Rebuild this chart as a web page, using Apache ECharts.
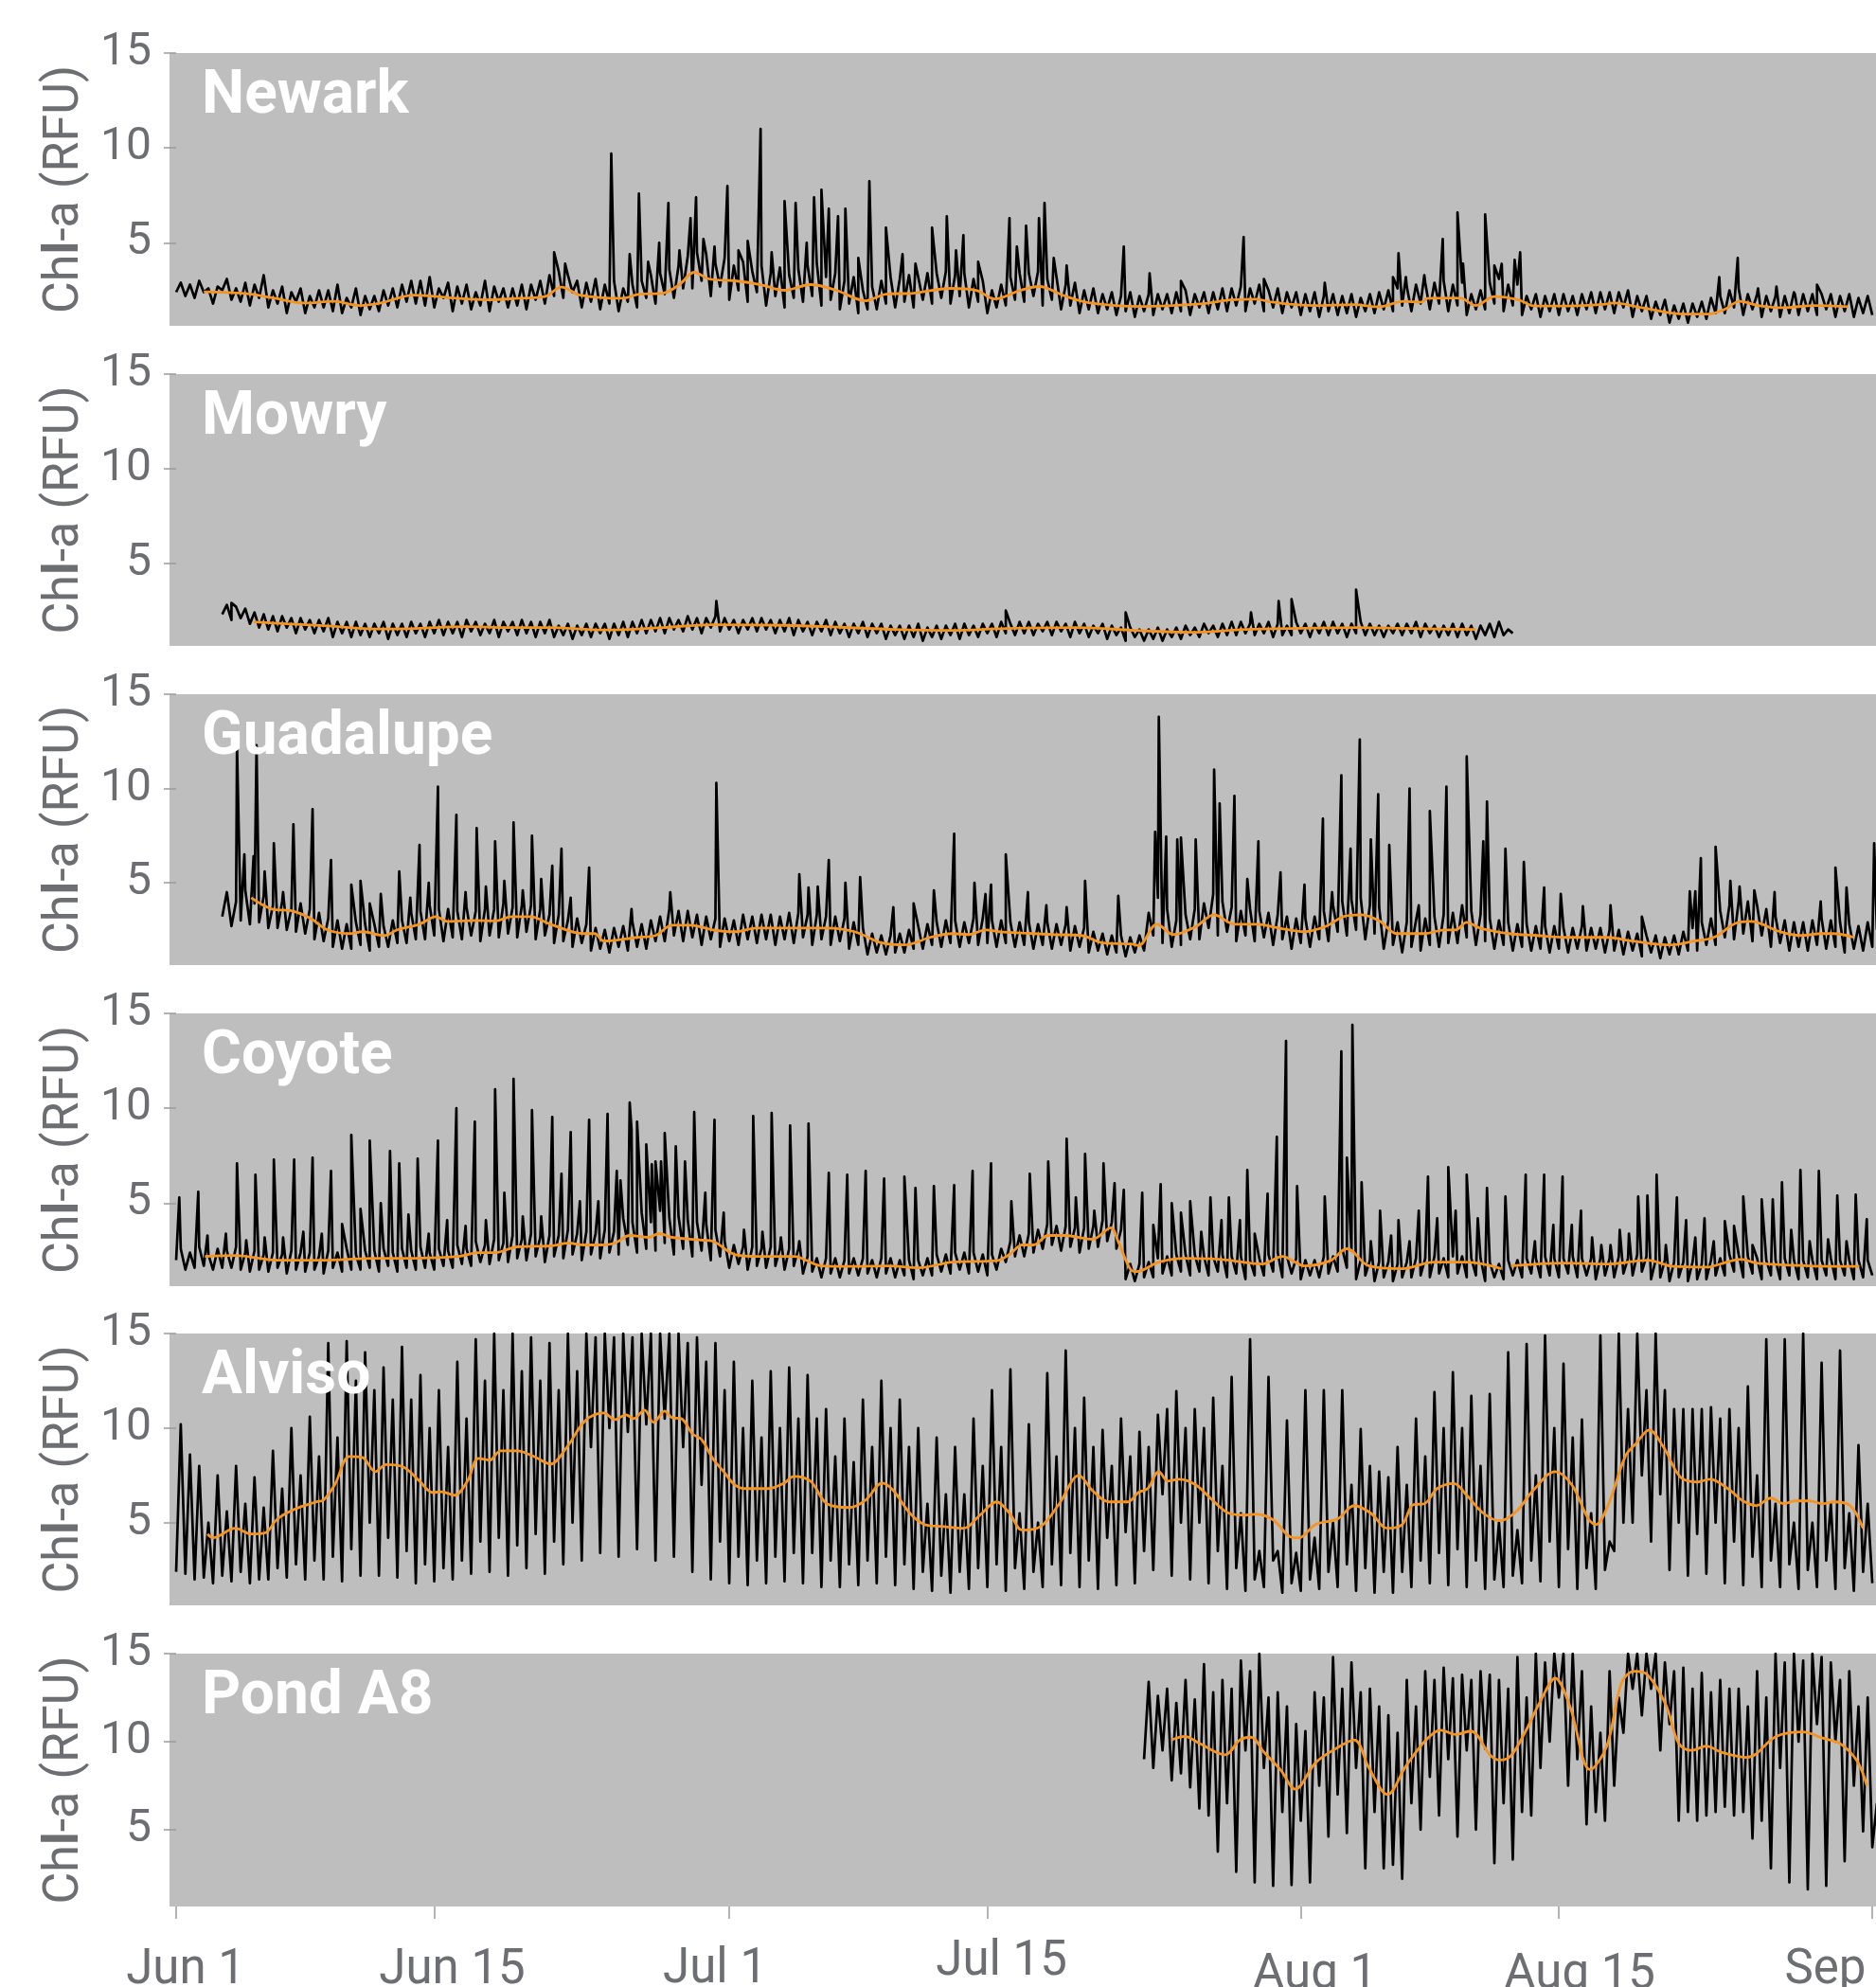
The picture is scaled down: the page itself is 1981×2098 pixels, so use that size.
<!DOCTYPE html>
<html><head><meta charset="utf-8">
<script src="https://cdn.jsdelivr.net/npm/echarts@6/dist/echarts.min.js"></script>
<style>html,body{margin:0;padding:0;background:#fff}#c{width:1981px;height:2098px}</style>
</head><body><div id="c"></div>
<script>
// ---------------- DATA ----------------
const sites = ['Newark', 'Mowry', 'Guadalupe', 'Coyote', 'Alviso', 'Pond A8'];
const dayTicks = [0, 14, 30, 44, 61, 75, 92];          // days since Jun 1
const tickLabels = ['Jun 1', 'Jun 15', 'Jul 1', 'Jul 15', 'Aug 1', 'Aug 15', 'Sep 1'];
const yTicks = [5, 10, 15];

// 6-hourly readings (start day, then one value every 0.25 day)
const newarkStart = 0;
const newarkBase = [
2.4,2.9,2.2,2.8, 2.1,3.0,2.4,2.6, 1.8,2.7,2.5,3.1, 2.0,2.6,1.9,2.9, 1.7,2.8,2.1,3.3,
1.6,2.5,1.8,2.7, 1.3,2.4,1.9,2.6, 1.3,2.2,1.6,2.5, 1.6,2.5,1.4,2.8, 1.3,2.1,1.6,2.6,
1.2,2.2,1.5,2.2, 1.4,2.5,1.7,2.6, 1.6,2.8,1.9,3.0, 1.8,3.0,1.7,3.2, 1.6,2.6,2.1,2.9,
1.4,2.7,1.8,2.8, 1.5,2.4,1.7,3.0, 1.4,2.7,1.9,2.6, 1.6,2.6,1.7,2.8, 1.5,2.8,2.0,3.0,
1.8,3.3,2.2,3.5, 2.1,3.3,2.4,3.0, 1.6,2.9,1.9,3.1, 1.5,2.8,1.8,3.0, 1.4,2.6,1.9,2.8,
1.6,3.0,2.1,3.3, 1.8,3.4,2.3,3.6, 2.1,3.8,2.6,4.3, 2.6,4.5,3.0,4.4, 2.2,3.9,2.7,4.2,
2.0,3.8,2.5,4.0, 1.9,3.5,2.4,3.8, 1.7,3.4,2.2,3.7, 1.6,3.3,2.1,3.6, 1.9,3.8,2.2,3.9,
1.7,3.2,2.0,3.4, 1.5,3.0,1.8,3.2, 1.3,2.5,1.5,2.7, 1.5,3.0,1.8,3.2, 1.6,3.1,1.9,3.3,
1.6,3.2,2.0,3.4, 1.8,3.4,2.1,3.5, 1.8,3.3,2.2,3.4, 1.6,3.1,1.9,3.0, 1.3,2.5,1.6,2.8,
1.7,3.2,2.0,3.4, 1.9,3.4,2.2,3.5, 1.7,3.1,2.0,3.2, 1.5,2.8,1.7,2.9, 1.3,2.5,1.5,2.6,
1.3,2.3,1.5,2.4, 1.2,2.2,1.4,2.4, 1.1,2.2,1.4,2.3, 1.2,2.3,1.5,2.3, 1.3,2.4,1.4,2.5,
1.2,2.3,1.6,2.4, 1.3,2.4,1.5,2.6, 1.4,2.6,1.7,2.7, 1.4,2.6,1.8,2.8, 1.4,2.5,1.6,2.6,
1.3,2.4,1.6,2.4, 1.2,2.3,1.4,2.4, 1.1,2.2,1.4,2.3, 1.2,2.2,1.3,2.3, 1.1,2.1,1.4,2.3,
1.3,2.4,1.5,2.5, 1.4,2.6,1.7,2.7, 1.4,2.8,1.8,2.9, 1.5,2.9,1.8,3.0, 1.4,2.8,1.7,2.9,
1.2,2.3,1.5,2.5, 1.5,2.9,1.8,3.1, 1.4,2.8,1.7,2.8, 1.2,2.2,1.5,2.3, 1.1,2.2,1.4,2.3,
1.2,2.3,1.4,2.2, 1.2,2.3,1.5,2.4, 1.3,2.4,1.5,2.4, 1.3,2.4,1.6,2.5, 1.1,2.2,1.4,2.2,
1.0,1.9,1.2,2.0, 0.8,1.7,1.0,1.8, 0.8,1.8,1.1,1.9, 1.0,2.1,1.3,2.2, 1.3,2.5,1.6,2.6,
1.2,2.3,1.5,2.3, 1.1,2.2,1.4,2.2, 1.1,2.2,1.3,2.4, 1.2,2.3,1.4,2.3, 1.2,2.3,1.5,2.3,
1.1,2.2,1.4,2.3, 1.1,2.1,1.3,2.2, 1.2];
const newarkSpikes = [[20.5,4.5],[21.1,3.9],[23.6,9.7],[24.6,4.4],[25.1,7.6],[25.6,4.0],[26.2,5.0],[26.7,7.1],[27.3,4.6],[27.9,6.3],[28.2,7.4],[28.6,5.2],[29.2,4.8],[29.9,8.0],[30.5,4.6],[31.0,5.1],[31.7,11.0],[32.3,4.5],[33.0,7.2],[33.6,7.1],[34.2,5.0],[34.6,7.4],[35.0,7.8],[35.4,6.8],[35.9,6.4],[36.3,6.8],[37.0,4.2],[37.6,8.25],[38.5,5.8],[39.4,4.4],[40.1,3.9],[41.0,5.8],[41.8,6.4],[42.3,4.6],[42.7,5.4],[43.5,4.0],[45.2,6.3],[45.6,4.8],[46.1,5.9],[46.8,6.3],[47.1,7.1],[47.6,4.2],[48.3,3.8],[51.4,4.8],[52.8,3.4],[54.5,3.0],[57.9,5.3],[59.0,3.1],[62.3,2.9],[66.0,3.2],[66.3,4.45],[66.7,3.2],[67.7,3.3],[68.7,5.2],[69.5,6.6],[69.8,3.9],[71.0,6.5],[71.5,3.8],[71.9,3.9],[72.6,4.1],[72.9,4.5],[83.7,3.2],[84.7,4.2],[85.8,2.6],[86.8,2.7],[87.8,2.3],[89.0,2.8]];
const newarkSmooth = [[1.5,2.42],[3.75,2.33],[5.35,2.08],[6.95,1.83],[8.56,1.92],[9.94,1.7],[11.1,1.83],[12.9,2.25],[15.2,2.08],[16.8,2.0],[18.6,2.08],[20.0,2.17],[20.9,2.67],[21.9,2.25],[24.2,2.08],[25.1,2.3],[26.4,2.35],[27.3,2.8],[28.1,3.45],[28.9,3.1],[30.3,3.0],[31.7,2.8],[33.0,2.5],[34.4,2.8],[35.8,2.5],[37.4,1.95],[38.5,2.3],[40.0,2.35],[42.0,2.6],[43.4,2.5],[44.4,2.05],[45.8,2.5],[46.8,2.7],[48.2,2.2],[49.5,1.85],[52.3,1.65],[55.7,1.8],[57.2,2.0],[58.6,2.03],[59.4,1.88],[61.7,1.7],[63.9,1.75],[65.2,1.63],[66.6,1.92],[67.5,1.87],[67.9,2.08],[69.3,2.1],[69.7,2.08],[70.5,1.7],[71.5,2.17],[72.8,2.0],[73.7,1.67],[75.1,1.67],[77.3,1.75],[78.0,1.83],[79.5,1.58],[81.8,1.25],[83.1,1.25],[84.0,1.5],[84.8,1.92],[85.8,1.7],[87.1,1.58],[88.9,1.7],[90.7,1.63]];

const mowryStart = 2.5;
const mowryBase = [
2.3,2.8,2.0,2.7, 2.1,2.6,1.8,2.4, 1.6,2.3,1.5,2.2, 1.4,2.2,1.6,2.1,
1.3,2.1,1.5,2.0, 1.3,2.0,1.4,2.1, 1.1,1.9,1.3,1.9, 1.1,1.9,1.2,1.8,
1.1,1.8,1.3,1.9, 1.0,1.8,1.2,1.8, 1.1,1.9,1.3,1.8, 1.1,1.9,1.3,2.0,
1.2,1.9,1.3,1.9, 1.1,2.0,1.4,1.9, 1.2,1.8,1.3,2.0, 1.1,1.9,1.4,1.9,
1.2,2.0,1.3,1.9, 1.1,1.9,1.3,2.0, 1.1,1.7,1.2,1.8, 1.0,1.7,1.2,1.8,
1.1,1.8,1.3,1.8, 1.0,1.8,1.2,1.9, 1.1,1.9,1.3,2.0, 1.3,2.0,1.4,2.1,
1.3,2.1,1.5,2.0, 1.4,2.2,1.5,2.1, 1.3,2.1,1.6,2.2, 1.4,2.1,1.5,2.0,
1.3,2.0,1.5,2.1, 1.4,2.1,1.5,2.0, 1.3,2.0,1.4,2.1, 1.2,2.0,1.4,1.9,
1.2,1.9,1.4,2.0, 1.2,1.9,1.3,1.8, 1.1,1.8,1.3,1.9, 1.1,1.8,1.3,1.8,
1.0,1.7,1.2,1.7, 1.0,1.7,1.1,1.8, 0.9,1.6,1.1,1.7, 1.0,1.7,1.2,1.8,
1.0,1.8,1.2,1.7, 1.1,1.8,1.3,1.8, 1.1,1.9,1.3,1.8, 1.2,1.9,1.3,1.9,
1.2,1.8,1.4,1.9, 1.2,1.9,1.4,1.8, 1.1,1.9,1.3,1.8, 1.1,1.7,1.3,1.8,
1.0,1.7,1.2,1.6, 0.9,1.6,1.1,1.5, 0.9,1.5,1.0,1.6, 0.9,1.5,1.1,1.6,
1.0,1.7,1.2,1.6, 1.1,1.8,1.3,1.7, 1.1,1.8,1.2,1.9, 1.2,1.9,1.3,1.8,
1.2,1.8,1.3,1.9, 1.1,1.8,1.2,1.7, 1.2,1.9,1.3,1.8, 1.1,1.8,1.3,1.9,
1.2,1.9,1.3,1.8, 1.1,1.8,1.3,1.9, 1.2,1.8,1.2,1.7, 1.1,1.7,1.3,1.8,
1.2,1.8,1.3,1.9, 1.1,1.8,1.3,1.7, 1.1,1.7,1.2,1.8, 1.1,1.8,1.2,1.7,
1.0,1.7,1.2,1.8, 1.1,1.9,1.2,1.5, 1.3];
const mowrySpikes = [[3.0,2.9],[29.3,3.0],[45.0,2.5],[51.5,2.4],[58.3,2.4],[59.8,3.0],[60.5,3.1],[64.0,3.6]];
const mowrySmooth = [[4.2,1.9],[6,1.8],[8,1.7],[11,1.52],[13,1.55],[15.7,1.65],[18,1.6],[20.2,1.6],[23.2,1.47],[26.4,1.6],[29,1.75],[33,1.72],[36,1.62],[39,1.5],[42,1.45],[45,1.55],[49,1.6],[52,1.45],[55,1.35],[58,1.5],[61,1.56],[64,1.6],[67,1.55],[70.5,1.5]];

const guadalupeStart = 2.5;
const guadalupeBase = [
3.2,4.5,2.7,4.0, 3.0,4.6,2.8,3.9, 2.9,4.3,2.6,3.8, 2.6,4.0,2.5,3.6, 2.4,3.9,2.3,3.6,
2.0,3.4,1.9,3.1, 1.6,3.0,1.5,2.8, 1.5,2.9,1.7,2.8, 1.4,2.8,1.6,2.7, 1.6,3.0,1.8,3.0,
1.8,3.4,2.0,3.5, 2.0,3.8,2.2,3.6, 1.9,3.6,2.1,3.5, 2.0,3.7,2.2,3.5, 1.9,3.6,2.2,3.6,
2.1,3.9,2.3,3.7, 2.1,3.8,2.4,3.8, 2.0,3.6,2.2,3.3, 1.8,3.3,1.9,3.0, 1.6,3.1,1.8,2.8,
1.4,2.6,1.5,2.5, 1.3,2.6,1.6,2.7, 1.4,2.9,1.6,2.8, 1.5,3.0,1.9,3.2, 1.9,3.6,2.2,3.5,
1.9,3.5,2.1,3.3, 1.7,3.2,2.0,3.1, 1.6,3.1,1.9,3.0, 1.7,3.3,2.0,3.2, 1.8,3.3,2.0,3.3,
1.7,3.2,2.0,3.4, 1.8,3.4,2.1,3.3, 1.7,3.3,2.0,3.2, 1.7,3.2,1.9,3.1, 1.5,2.9,1.7,2.6,
1.2,2.3,1.3,2.2, 1.2,2.2,1.3,2.3, 1.3,2.5,1.5,2.7, 1.5,2.8,1.7,2.9, 1.6,3.0,1.8,3.0,
1.6,2.9,1.8,3.1, 1.7,3.1,1.8,3.0, 1.6,3.0,1.8,2.9, 1.6,2.9,1.7,2.9, 1.5,2.8,1.7,2.9,
1.5,2.8,1.7,2.8, 1.4,2.7,1.6,2.6, 1.3,2.4,1.4,2.3, 1.2,2.2,1.3,2.2, 1.1,2.1,1.3,2.2,
1.4,3.4,2.2,4.2, 1.8,3.6,1.6,3.0, 1.7,3.3,2.0,3.6, 2.0,3.9,2.6,4.4, 2.2,4.0,2.4,3.7,
1.9,3.5,2.2,3.6, 1.9,3.5,2.1,3.4, 1.7,3.3,2.0,3.2, 1.5,3.1,1.8,3.1, 1.6,3.2,2.0,3.5,
1.9,3.8,2.4,4.0, 2.2,4.1,2.5,4.2, 2.0,3.8,2.3,3.7, 1.5,3.0,1.7,2.9, 1.3,2.9,1.6,3.0,
1.4,3.1,1.7,3.2, 1.6,3.3,1.8,3.4, 1.8,3.8,2.1,3.5, 1.7,3.3,1.9,3.1, 1.5,3.0,1.7,2.9,
1.4,2.8,1.6,2.8, 1.4,2.7,1.5,2.7, 1.3,2.7,1.5,2.6, 1.3,2.6,1.5,2.7, 1.4,2.6,1.5,2.6,
1.3,2.5,1.4,2.5, 1.2,2.4,1.4,2.3, 1.1,2.2,1.3,2.2, 1.0,2.1,1.2,2.2, 1.2,2.4,1.4,2.6,
1.4,2.9,1.7,3.1, 1.7,3.5,2.1,3.8, 2.0,4.0,2.3,4.0, 1.9,3.8,2.2,3.6, 1.6,3.2,1.8,3.0,
1.4,2.9,1.6,2.9, 1.4,3.0,1.7,3.1, 1.5,3.0,1.6,2.9, 1.3,2.8,1.5,2.7, 1.4,2.9,1.6,2.5];
const guadalupeSpikes = [[3.3,12.3],[3.7,6.5],[4.2,6.4],[4.36,12.3],[4.8,5.6],[5.3,7.1],[5.8,4.5],[6.36,8.1],[7.4,8.9],[8.4,6.2],[9.5,4.9],[10.0,5.1],[10.5,3.9],[11.1,4.4],[12.1,5.6],[12.7,4.2],[13.2,7.0],[13.7,5.0],[14.2,10.1],[15.2,8.6],[15.7,4.5],[16.3,7.9],[16.8,4.8],[17.3,7.2],[17.8,5.1],[18.3,8.2],[18.8,4.6],[19.3,7.5],[19.8,5.2],[20.4,5.9],[20.9,6.8],[21.4,4.2],[22.4,5.8],[24.7,3.6],[26.8,4.5],[29.3,10.3],[33.8,5.45],[34.3,4.75],[34.8,4.8],[35.4,6.2],[36.3,5.0],[37.1,5.3],[38.9,3.7],[40.0,3.9],[41.1,4.6],[42.2,7.6],[43.3,5.0],[43.9,4.4],[44.2,4.9],[45.0,6.5],[46.2,4.5],[47.2,3.8],[48.3,3.7],[49.3,5.1],[51.1,4.3],[53.1,7.7],[53.3,13.8],[53.7,7.45],[54.3,7.3],[54.5,7.4],[55.3,7.3],[56.3,11.0],[56.6,9.2],[57.4,9.6],[58.1,5.2],[58.7,7.2],[59.9,5.55],[61.2,4.9],[62.2,8.4],[62.7,4.5],[63.2,10.7],[63.7,6.8],[64.2,12.6],[64.8,7.3],[65.2,9.7],[65.8,7.0],[66.9,10.0],[67.4,3.8],[68.0,8.8],[68.9,10.1],[70.0,11.7],[70.9,7.2],[71.1,9.3],[72.1,6.8],[73.1,6.1],[74.2,4.75],[75.1,4.4],[76.3,3.75],[77.8,3.8],[79.5,3.2],[82.1,4.55],[82.4,4.55],[82.7,6.3],[83.5,6.9],[84.3,5.1],[84.8,4.8],[85.6,4.6],[86.7,4.5],[89.2,4.0],[90.0,5.8],[90.6,4.75],[92.1,7.1]];
const guadalupeSmooth = [[4.07,4.2],[5.2,3.6],[6.3,3.5],[7.3,3.1],[8.2,2.5],[9.4,2.3],[10.1,2.4],[11.3,2.2],[12.0,2.5],[13.2,2.8],[14.1,3.2],[14.7,2.95],[16.2,3.0],[17.3,2.97],[18.2,3.2],[19.2,3.2],[20.3,2.8],[22.1,2.3],[22.7,2.3],[23.2,1.9],[25.0,2.1],[26.0,2.2],[26.9,2.75],[27.9,2.75],[29.1,2.5],[30.3,2.4],[31.5,2.6],[33.8,2.6],[35.3,2.6],[36.8,2.4],[38.3,1.8],[39.5,1.7],[40.9,2.1],[42.1,2.3],[43.0,2.25],[43.9,2.5],[44.7,2.4],[45.9,2.33],[47.6,2.25],[49.1,2.2],[50.3,1.8],[51.8,1.75],[52.2,1.67],[53.2,2.8],[54.1,2.25],[55.3,2.67],[56.3,3.3],[57.4,2.8],[58.6,2.8],[59.8,2.6],[61.2,2.4],[62.4,2.7],[63.3,3.2],[64.3,3.3],[65.3,2.95],[66.2,2.3],[67.7,2.3],[68.8,2.5],[69.4,2.5],[70.0,2.9],[70.7,2.6],[72.3,2.3],[73.8,2.2],[75.3,2.1],[77.6,2.1],[79.0,1.9],[81.1,1.7],[82.3,1.9],[83.4,2.1],[84.6,2.85],[85.4,2.95],[87.0,2.4],[88.1,2.2],[89.3,2.3],[89.9,2.3],[91.0,2.1]];

const coyoteStart = 0;
const coyoteBase = [
2.0,2.6,1.5,2.4, 1.6,2.7,1.7,2.3, 1.5,2.6,1.6,2.5, 1.6,2.7,1.5,2.4, 1.4,2.5,1.5,2.3,
1.4,2.4,1.6,2.3, 1.3,2.5,1.5,2.4, 1.4,2.4,1.5,2.2, 1.3,2.5,1.6,2.4, 1.4,2.6,1.5,2.3,
1.5,2.5,1.6,2.5, 1.4,2.6,1.7,2.4, 1.4,2.6,1.6,2.5, 1.5,2.7,1.6,2.4, 1.5,2.6,1.7,2.5,
1.6,2.8,1.8,2.6, 1.7,3.0,1.9,2.8, 1.8,3.1,2.0,2.9, 1.9,3.3,2.1,3.1, 2.0,3.4,2.2,3.2,
1.9,3.3,2.2,3.3, 2.1,3.6,2.3,3.4, 2.0,3.5,2.3,3.4, 2.1,3.6,2.4,3.5, 2.3,4.2,2.8,4.0,
2.4,4.5,2.6,4.0, 2.5,4.6,2.9,4.2, 2.3,4.3,2.6,4.1, 2.2,4.0,2.5,3.9, 2.0,3.6,2.2,3.0,
1.6,2.8,1.8,2.7, 1.5,2.7,1.7,2.6, 1.6,2.7,1.7,2.6, 1.5,2.6,1.7,2.6, 1.3,2.2,1.4,2.1,
1.1,2.1,1.3,2.1, 1.1,2.0,1.3,2.1, 1.2,2.1,1.3,2.0, 1.1,2.1,1.3,2.1, 1.1,2.0,1.2,2.0,
1.0,2.0,1.2,2.1, 1.2,2.3,1.4,2.3, 1.3,2.4,1.5,2.4, 1.3,2.4,1.4,2.3, 1.2,2.3,1.5,2.6,
1.9,3.0,2.2,3.3, 2.2,3.4,2.4,3.6, 2.6,3.9,2.8,3.8, 2.5,3.8,2.7,3.7, 2.4,3.7,2.6,3.8,
2.7,4.1,3.0,4.0, 2.6,3.6,1.0,1.8, 0.9,1.8,1.1,1.9, 1.1,2.1,1.3,2.2, 1.2,2.3,1.4,2.3,
1.2,2.3,1.4,2.2, 1.2,2.2,1.4,2.3, 1.1,2.2,1.3,2.2, 1.0,2.0,1.2,2.1, 1.2,2.3,1.4,2.4,
1.1,2.2,1.3,2.1, 1.0,2.0,1.2,2.0, 1.1,2.2,1.3,2.2, 1.4,2.6,1.6,2.5, 1.0,2.0,1.2,2.0,
0.9,1.9,1.1,1.9, 0.9,1.8,1.1,1.9, 1.1,2.1,1.2,2.1, 1.1,2.2,1.3,2.1, 1.1,2.2,1.3,2.2,
1.1,2.1,1.2,2.1, 0.9,1.9,1.1,1.8, 1.0,2.0,1.2,2.0, 1.1,2.1,1.3,2.1, 1.1,2.2,1.2,2.1,
1.1,2.1,1.3,2.2, 1.1,2.1,1.2,2.1, 1.0,2.1,1.2,2.1, 1.1,2.2,1.3,2.1, 1.2,2.3,1.4,2.2,
1.0,2.0,1.1,2.0, 0.9,1.9,1.1,1.9, 0.9,1.9,1.0,1.8, 1.0,2.0,1.2,2.1, 1.2,2.3,1.4,2.3,
1.1,2.2,1.3,2.1, 1.0,2.0,1.2,2.0, 1.0,2.1,1.2,2.0, 1.0,2.0,1.1,2.0, 1.0,2.0,1.2,2.1,
1.0,2.0,1.2,2.0, 1.0,2.0,1.1,2.0, 1.2];
const coyoteSpikes = [[0.17,5.3],[1.2,5.6],[1.7,3.3],[2.7,3.4],[3.3,7.1],[3.8,3.05],[4.3,6.5],[4.8,3.2],[5.3,7.3],[5.8,3.2],[6.4,7.3],[6.9,3.5],[7.4,7.4],[7.9,3.4],[8.4,6.7],[9.0,3.9],[9.5,8.6],[10.0,4.7],[10.5,8.3],[11.1,5.0],[11.6,7.75],[12.1,7.1],[12.6,4.4],[13.1,7.35],[13.7,3.4],[14.2,8.3],[14.7,4.1],[15.2,10.0],[15.7,3.8],[16.2,9.3],[16.8,4.1],[17.3,11.0],[17.8,5.55],[18.3,11.55],[18.8,4.3],[19.3,9.9],[19.8,4.3],[20.4,9.55],[20.9,6.55],[21.4,8.75],[21.9,5.1],[22.4,9.4],[22.9,5.1],[23.4,9.7],[23.9,6.7],[24.1,6.2],[24.6,10.3],[24.7,8.9],[25.0,9.3],[25.5,8.1],[25.8,7.05],[26.0,7.2],[26.3,7.2],[26.5,8.7],[27.1,8.0],[27.6,7.2],[28.1,9.8],[28.7,5.55],[29.2,9.4],[29.7,4.5],[30.8,3.6],[31.3,9.6],[31.8,3.5],[32.3,9.75],[32.8,3.2],[33.3,9.1],[33.8,3.0],[34.3,9.2],[35.4,6.6],[36.4,6.5],[37.4,6.7],[38.4,6.3],[39.5,6.4],[40.1,5.8],[41.1,5.9],[42.2,5.95],[43.2,6.7],[44.2,7.1],[45.3,5.1],[46.3,6.55],[47.3,7.2],[48.3,8.4],[48.8,5.3],[49.3,7.6],[49.8,4.6],[50.3,7.1],[50.9,6.05],[51.4,5.7],[52.4,5.55],[53.0,3.85],[53.4,6.0],[54.0,5.0],[54.5,4.5],[55.0,5.1],[55.6,3.5],[56.1,5.3],[56.7,4.1],[57.1,5.3],[57.7,4.1],[58.1,6.75],[58.5,3.4],[59.2,5.5],[59.7,8.5],[60.2,13.55],[60.8,5.9],[62.3,5.35],[63.2,13.0],[63.5,7.4],[63.8,14.4],[64.3,6.1],[64.8,3.0],[65.3,4.6],[65.9,3.3],[66.3,4.1],[66.9,3.0],[67.4,4.6],[67.9,6.4],[68.4,4.2],[69.0,6.9],[69.4,4.6],[70.0,6.5],[70.6,4.2],[71.1,5.8],[72.1,5.35],[73.2,6.5],[73.7,3.0],[74.2,6.5],[74.7,3.85],[75.2,6.4],[75.7,3.85],[76.2,4.6],[76.8,3.2],[77.3,2.8],[77.8,2.8],[78.3,3.6],[78.8,3.4],[79.3,5.35],[79.8,5.4],[80.3,6.5],[80.8,2.8],[81.4,5.3],[81.9,4.1],[82.4,3.2],[82.9,4.2],[83.4,3.0],[84.0,4.05],[84.5,3.8],[85.0,5.35],[85.5,2.8],[86.0,5.2],[86.6,5.2],[87.1,6.1],[87.6,3.6],[88.1,6.75],[88.6,3.0],[89.1,6.7],[89.6,3.1],[90.1,5.4],[90.6,3.0],[91.1,5.45],[91.7,4.15]];
const coyoteSmooth = [[1.56,2.2],[3.2,2.25],[5.5,2.0],[7.9,2.0],[10.8,2.1],[12.0,2.1],[15.3,2.2],[16.4,2.4],[17.3,2.4],[18.5,2.7],[20.3,2.75],[21.3,2.9],[22.1,2.8],[23.0,2.8],[23.8,2.9],[24.6,3.3],[25.6,3.2],[26.2,3.4],[26.9,3.2],[28.6,3.05],[29.1,3.0],[30.3,2.3],[31.5,2.2],[33.5,2.2],[35.0,1.7],[36.5,1.67],[38.6,1.7],[40.3,1.6],[42.1,1.9],[44.5,1.97],[45.2,2.3],[45.9,2.8],[46.5,2.8],[47.3,3.3],[48.2,3.3],[49.7,3.1],[50.7,3.7],[51.1,2.97],[51.8,1.47],[52.1,1.4],[53.3,1.9],[54.7,2.1],[56.2,2.07],[57.1,2.0],[58.9,1.8],[60.0,2.2],[61.2,1.7],[62.6,1.97],[63.5,2.6],[64.7,1.7],[66.5,1.55],[68.2,1.9],[70.0,1.9],[71.9,1.55],[72.15,null],[72.4,1.7],[75.3,1.85],[77.7,1.8],[79.8,2.0],[81.2,1.67],[83.0,1.63],[84.1,1.9],[84.9,2.05],[85.7,1.85],[88.6,1.7],[91.3,1.67]];

const alvisoStart = 0;
const alvisoBase = [
2.4,10.2,2.3,8.6, 2.0,8.0,2.1,5.0, 1.8,7.5,2.2,5.6, 1.9,8.0,2.4,6.0, 1.8,7.4,2.0,5.8,
2.0,8.8,2.6,6.8, 2.1,10.0,2.8,7.5, 2.0,10.6,3.0,8.5, 2.0,14.5,3.2,9.5, 1.9,14.6,3.6,12.5,
2.2,14.0,5.0,12.0, 2.2,13.2,4.2,11.5, 2.1,14.3,3.5,11.5, 1.8,12.8,2.8,10.0, 1.9,12.0,2.6,9.0,
2.0,13.5,3.0,10.5, 2.3,14.7,4.0,12.5, 2.4,15.0,4.2,12.0, 2.2,15.0,3.8,13.0, 2.6,14.8,4.4,12.5,
2.3,14.5,4.0,12.0, 2.8,15.0,5.0,13.0, 3.0,15.0,9.0,14.8, 3.4,15.0,10.0,14.8, 3.2,15.0,9.8,14.8,
3.6,15.0,10.2,15.0, 3.0,15.0,10.5,15.0, 3.2,15.0,9.0,14.5, 2.4,14.8,7.0,13.5, 2.0,14.5,4.0,12.0,
1.8,13.5,3.2,10.0, 1.7,12.5,3.0,9.5, 1.8,13.0,3.2,10.0, 1.9,13.2,3.4,10.5, 1.8,12.8,3.4,10.5,
1.6,11.0,3.0,8.5, 1.6,10.5,2.8,8.2, 1.7,11.5,3.0,9.0, 1.8,12.5,3.2,10.0, 1.7,11.5,2.8,9.0,
1.5,10.0,2.4,6.0, 1.4,9.5,2.2,6.5, 1.3,9.0,2.4,6.5, 1.5,10.5,2.6,8.0, 1.6,12.0,2.8,9.0,
1.4,13.1,2.6,5.5, 1.5,10.2,2.4,5.0, 1.6,12.9,2.8,8.5, 1.7,14.1,3.4,10.0, 1.6,11.6,3.0,9.0,
1.5,9.9,4.2,8.0, 1.7,10.5,4.5,8.5, 1.8,9.8,3.5,9.0, 2.5,10.7,6.5,11.0, 2.2,11.95,5.0,10.0,
2.0,11.0,5.0,10.0, 1.8,11.6,3.5,8.0, 1.5,12.7,2.6,5.5, 1.4,14.7,2.0,3.5, 1.6,12.7,3.0,3.5,
1.3,10.4,1.8,3.4, 1.4,12.0,2.0,4.2, 1.5,12.0,2.4,5.0, 1.6,12.0,2.8,7.0, 1.4,9.95,2.6,8.0,
1.3,7.7,2.4,7.4, 1.3,9.0,2.4,7.0, 1.6,10.5,3.0,8.5, 1.8,11.9,3.4,10.0, 1.7,12.95,3.6,10.0,
1.6,11.7,3.0,8.0, 1.5,11.8,2.0,5.0, 1.6,14.0,2.2,4.6, 1.8,14.45,3.0,7.5, 1.9,14.9,4.0,10.0,
1.6,13.4,3.6,9.5, 1.5,10.45,2.6,5.5, 1.5,14.9,2.5,4.0, 3.5,15.0,5.0,11.0, 5.0,15.0,7.5,12.0,
4.0,15.0,6.5,12.0, 2.5,11.0,5.0,11.0, 2.2,11.0,4.4,11.0, 2.3,11.1,5.0,10.5, 1.8,11.0,4.0,10.0,
1.7,12.2,3.2,7.5, 1.6,14.7,3.0,6.0, 1.6,14.7,2.8,5.0, 1.5,15.0,2.5,5.0, 1.6,13.45,3.0,6.0,
1.5,14.1,2.6,5.5, 1.4,9.1,2.4,6.0, 1.8];
const alvisoSmooth = [[1.7,4.4],[2.0,4.2],[3.2,4.7],[4.1,4.4],[4.8,4.45],[5.5,5.2],[6.4,5.7],[7.6,6.1],[8.0,6.2],[8.6,7.0],[9.4,8.5],[10.1,8.45],[10.8,7.7],[11.4,8.07],[12.3,7.95],[13.2,7.2],[13.9,6.6],[14.4,6.63],[15.1,6.45],[15.8,7.2],[16.4,8.4],[17.0,8.3],[17.6,8.8],[18.5,8.8],[19.4,8.5],[20.3,8.1],[21.2,9.0],[22.2,10.4],[23.2,10.8],[23.8,10.45],[24.4,10.7],[24.8,10.5],[25.4,10.95],[25.9,10.3],[26.5,10.9],[26.9,10.55],[27.4,10.5],[28.0,9.7],[28.5,9.4],[29.1,8.4],[29.7,7.7],[30.3,7.0],[30.9,6.8],[32.1,6.8],[33.0,7.1],[33.5,7.45],[34.4,7.2],[35.3,6.0],[36.5,5.8],[37.4,6.2],[38.3,7.1],[38.9,6.7],[39.8,5.5],[40.6,4.9],[41.5,4.8],[42.7,4.7],[43.6,5.4],[44.5,6.1],[45.2,5.5],[45.9,4.6],[46.9,4.8],[47.9,6.0],[48.97,7.5],[49.7,6.7],[50.6,6.1],[51.6,6.1],[52.2,6.6],[52.7,6.8],[53.3,7.7],[53.8,7.2],[54.4,7.3],[55.3,7.0],[56.2,6.2],[57.1,5.5],[58.0,5.4],[58.6,5.45],[59.5,5.15],[60.6,4.2],[60.9,4.2],[61.8,4.9],[63.0,5.2],[63.9,5.9],[64.8,5.5],[65.7,4.7],[66.5,4.9],[67.1,5.95],[67.7,6.0],[68.4,6.8],[69.3,7.07],[70.0,6.45],[70.9,5.5],[71.8,5.1],[72.7,5.6],[73.6,6.7],[74.8,7.7],[75.7,7.0],[76.6,5.2],[77.0,4.9],[77.7,6.0],[78.6,8.5],[79.2,9.2],[79.9,9.9],[80.7,8.95],[81.6,7.4],[82.5,7.15],[83.2,7.3],[84.3,6.7],[84.9,6.2],[85.7,5.9],[86.5,6.3],[87.2,6.0],[87.8,6.15],[88.6,6.15],[89.3,6.0],[89.9,6.1],[90.8,5.9],[91.5,4.7]];

const pondStart = 52.5;
const pondBase = [
9.0,13.4,8.5,12.6, 9.5,13.0,7.8,12.2, 8.2,13.5,7.4,12.4, 6.2,14.4,5.8,12.8, 3.75,13.5,6.5,13.0,
2.6,14.6,9.5,14.0, 2.0,15.0,8.5,12.5, 1.8,12.8,6.0,12.0, 1.85,11.0,5.5,10.6, 2.0,12.8,7.5,12.5,
4.6,14.8,7.0,13.0, 4.8,14.5,8.5,12.8, 2.8,13.0,6.0,12.0, 2.8,11.5,3.0,10.5, 2.2,13.5,6.5,12.0,
5.0,14.0,8.0,13.5, 5.8,14.2,9.0,13.6, 4.6,13.8,9.5,13.5, 5.0,14.0,9.6,13.8, 3.1,13.5,6.5,13.0,
3.3,14.8,6.0,12.5, 5.8,15.0,8.5,14.5, 10.0,15.0,12.5,15.0, 7.5,15.0,9.0,14.0, 5.3,12.0,6.0,10.5,
5.5,14.0,7.5,12.5, 10.5,15.0,13.0,15.0, 11.5,15.0,13.0,15.0, 9.5,14.5,11.0,14.0, 5.5,14.2,6.0,13.0,
5.5,13.9,5.8,12.8, 6.0,13.5,6.3,13.0, 5.8,13.0,6.0,12.0, 4.5,14.0,5.5,12.5, 2.8,15.0,8.5,14.5,
2.0,15.0,10.0,14.6, 1.6,15.0,11.0,14.8, 1.8,14.5,10.0,13.5, 3.2,14.0,7.5,12.0, 4.9,12.5,4.0,6.5];
const pondSmooth = [[54.0,10.1],[54.7,10.3],[55.5,9.9],[56.9,9.25],[57.7,10.1],[58.3,10.25],[59.0,9.4],[59.9,8.4],[60.7,7.3],[61.8,8.8],[62.9,9.6],[63.9,10.1],[64.7,8.5],[65.7,7.0],[66.7,8.6],[67.8,10.1],[68.6,10.65],[69.4,10.4],[70.2,10.6],[71.3,9.2],[71.8,8.95],[72.4,9.2],[73.2,10.6],[74.0,12.3],[74.8,13.6],[75.6,12.0],[76.7,8.4],[77.6,9.75],[78.4,13.35],[79.1,14.0],[79.8,13.8],[80.8,12.1],[81.5,9.9],[82.2,9.5],[83.0,9.75],[83.8,9.4],[85.2,9.1],[86.8,10.3],[88.2,10.55],[89.3,10.2],[90.3,9.85],[91.2,8.85],[91.7,7.5]];

// ---------------- BUILD ----------------
function buildLine(start, base, spikes) {
  const pts = base.map((v, i) => [start + i * 0.25, v]);
  (spikes || []).forEach(s => pts.push([s[0], s[1]]));
  pts.sort((a, b) => a[0] - b[0]);
  return pts;
}
const lines = [
  buildLine(newarkStart, newarkBase, newarkSpikes),
  buildLine(mowryStart, mowryBase, mowrySpikes),
  buildLine(guadalupeStart, guadalupeBase, guadalupeSpikes),
  buildLine(coyoteStart, coyoteBase, coyoteSpikes),
  buildLine(alvisoStart, alvisoBase, []),
  buildLine(pondStart, pondBase, [])
];
const smooths = [newarkSmooth, mowrySmooth, guadalupeSmooth, coyoteSmooth, alvisoSmooth, pondSmooth];

const panelTops = [56, 395, 733, 1070, 1408, 1746];
const panelHeights = [288, 287, 286, 288, 287, 267];
const GRAY = '#6d6e71';
const FONT = 'Roboto';

// per-label placement nudges of the bottom tick labels [dx, dy] (px)
const labelNudge = [[10, 13], [19, 13], [-15, 12], [15, 4], [15, 18], [22, 18], [-29, 13]];
const xRich = {};
labelNudge.forEach((n, k) => {
  xRich['t' + k] = {
    fontSize: 51, color: GRAY, fontFamily: FONT,
    padding: [n[1], n[0] < 0 ? -2 * n[0] : 0, 0, n[0] > 0 ? 2 * n[0] : 0]
  };
});

const option = {
  animation: false,
  backgroundColor: '#ffffff',
  textStyle: { fontFamily: FONT },
  title: sites.map((s, i) => ({
    text: s, left: 208, top: panelTops[i] + 10,
    textStyle: { color: '#ffffff', fontSize: 64, fontWeight: 'bold', fontFamily: FONT }
  })),
  grid: sites.map((s, i) => ({
    left: 179, right: 0, top: panelTops[i], height: panelHeights[i],
    show: true, backgroundColor: '#bebebe', borderWidth: 0, outerBoundsMode: 'none', containLabel: false
  })),
  xAxis: sites.map((s, i) => ({
    type: 'value', gridIndex: i, min: -0.36, max: 92.2,
    axisLine: { show: false }, splitLine: { show: false },
    axisTick: i === 5 ? { show: true, customValues: dayTicks, length: 13, lineStyle: { color: '#9a9a9a', width: 1.5 } } : { show: false },
    axisLabel: i === 5 ? {
      show: true, customValues: dayTicks, margin: 30, fontSize: 51, color: GRAY, fontFamily: FONT,
      formatter: v => { const k = dayTicks.indexOf(v); return '{t' + k + '|' + tickLabels[k] + '}'; },
      rich: xRich
    } : { show: false }
  })),
  yAxis: sites.map((s, i) => ({
    type: 'value', gridIndex: i, min: 0.63, max: 15,
    axisLine: { show: false }, splitLine: { show: false },
    axisTick: { show: true, customValues: yTicks, length: 13, lineStyle: { color: '#9a9a9a', width: 1.5 } },
    axisLabel: { show: true, customValues: yTicks, margin: 19, fontSize: 48, color: GRAY, fontFamily: FONT },
    name: '{a|Ch}{b|l}{a|-a (RFU)}', nameLocation: 'middle', nameRotate: 90, nameGap: 83,
    nameTextStyle: {
      rich: {
        a: { fontSize: 52, color: GRAY, fontFamily: FONT },
        b: { fontSize: 52, color: GRAY, fontFamily: FONT, fontWeight: 'bold' }
      }
    }
  })),
  series: []
};
sites.forEach((s, i) => {
  option.series.push({
    type: 'line', name: s, xAxisIndex: i, yAxisIndex: i, data: lines[i],
    showSymbol: false, symbol: 'none', clip: true, z: 2,
    lineStyle: { color: '#000000', width: 2.7, join: 'round' }
  });
  option.series.push({
    type: 'line', name: s + ' mean', xAxisIndex: i, yAxisIndex: i, data: smooths[i],
    showSymbol: false, symbol: 'none', smooth: 0.35, connectNulls: false, clip: true, z: 3,
    lineStyle: { color: '#f7941d', width: 2.8 }
  });
});

const chart = echarts.init(document.getElementById('c'), null, { renderer: 'canvas', width: 1981, height: 2098 });
chart.setOption(option);
</script>
</body></html>
